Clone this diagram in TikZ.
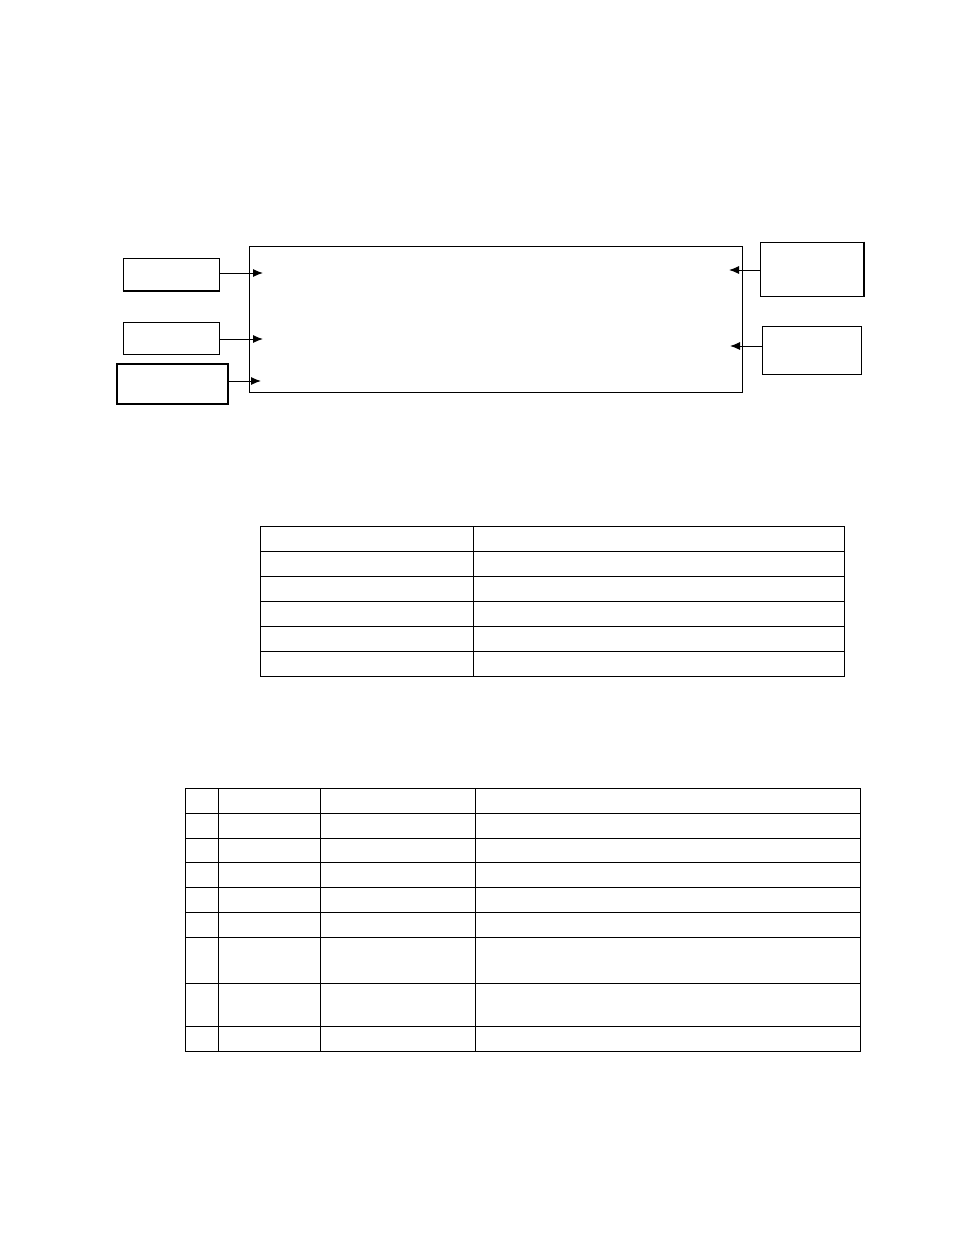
\documentclass[tikz,border=0pt]{standalone}
\usetikzlibrary{arrows.meta}

\begin{document}
\begin{tikzpicture}[x=1pt,y=-1pt,line width=1pt,
    blk/.style={draw,inner sep=0pt,line width=1pt},
    sig/.style={-{Latex[length=10pt,width=8pt]},line width=1pt}]
    \useasboundingbox (0,0) rectangle (954,1235);
    % block with its inputs and outputs
    \node[blk,minimum width=493pt,minimum height=146pt] (unit) at (495.5,319) {};
    \node[blk,minimum width=96pt,minimum height=32pt] (inA) at (171,274) {};
    \node[blk,minimum width=96pt,minimum height=32pt] (inB) at (171,338) {};
    \node[blk,line width=2pt,minimum width=111pt,minimum height=40pt] (inC) at (172.5,384) {};
    \node[blk,minimum width=103pt,minimum height=54pt] (outA) at (811.5,269) {};
    \node[blk,minimum width=99pt,minimum height=48pt] (outB) at (811.5,350) {};
    \draw[line width=2pt] (inA.south west) -- (inA.south east);
    \draw[line width=2pt] (outA.north east) -- (outA.south east);
    \coordinate (inAend) at (263,273);
    \coordinate (inBend) at (263,339);
    \coordinate (inCend) at (261,381);
    \coordinate (outAend) at (729,270);
    \coordinate (outBend) at (730,346);
    \draw[sig] (inA.east |- inAend) -- (inAend);
    \draw[sig] (inB.east |- inBend) -- (inBend);
    \draw[sig] (inC.east |- inCend) -- (inCend);
    \draw[sig] (outA.west |- outAend) -- (outAend);
    \draw[sig] (outB.west |- outBend) -- (outBend);
    % first table
    \draw (260.3,526.3) rectangle (844,676.3);
    \foreach \y in {551.3,576.3,601.3,626.3,651.3}
      \draw (260.3,\y) -- (844,\y);
    \draw (473,526.3) -- (473,676.3);
    % second table
    \draw (185.3,788.3) rectangle (860.3,1051);
    \foreach \y in {813.3,838.3,862.3,887.3,912.3,937.3,983.3,1026.7}
      \draw (185.3,\y) -- (860.3,\y);
    \foreach \x in {218.3,320.3,475.3}
      \draw (\x,788.3) -- (\x,1051);
\end{tikzpicture}
\end{document}
